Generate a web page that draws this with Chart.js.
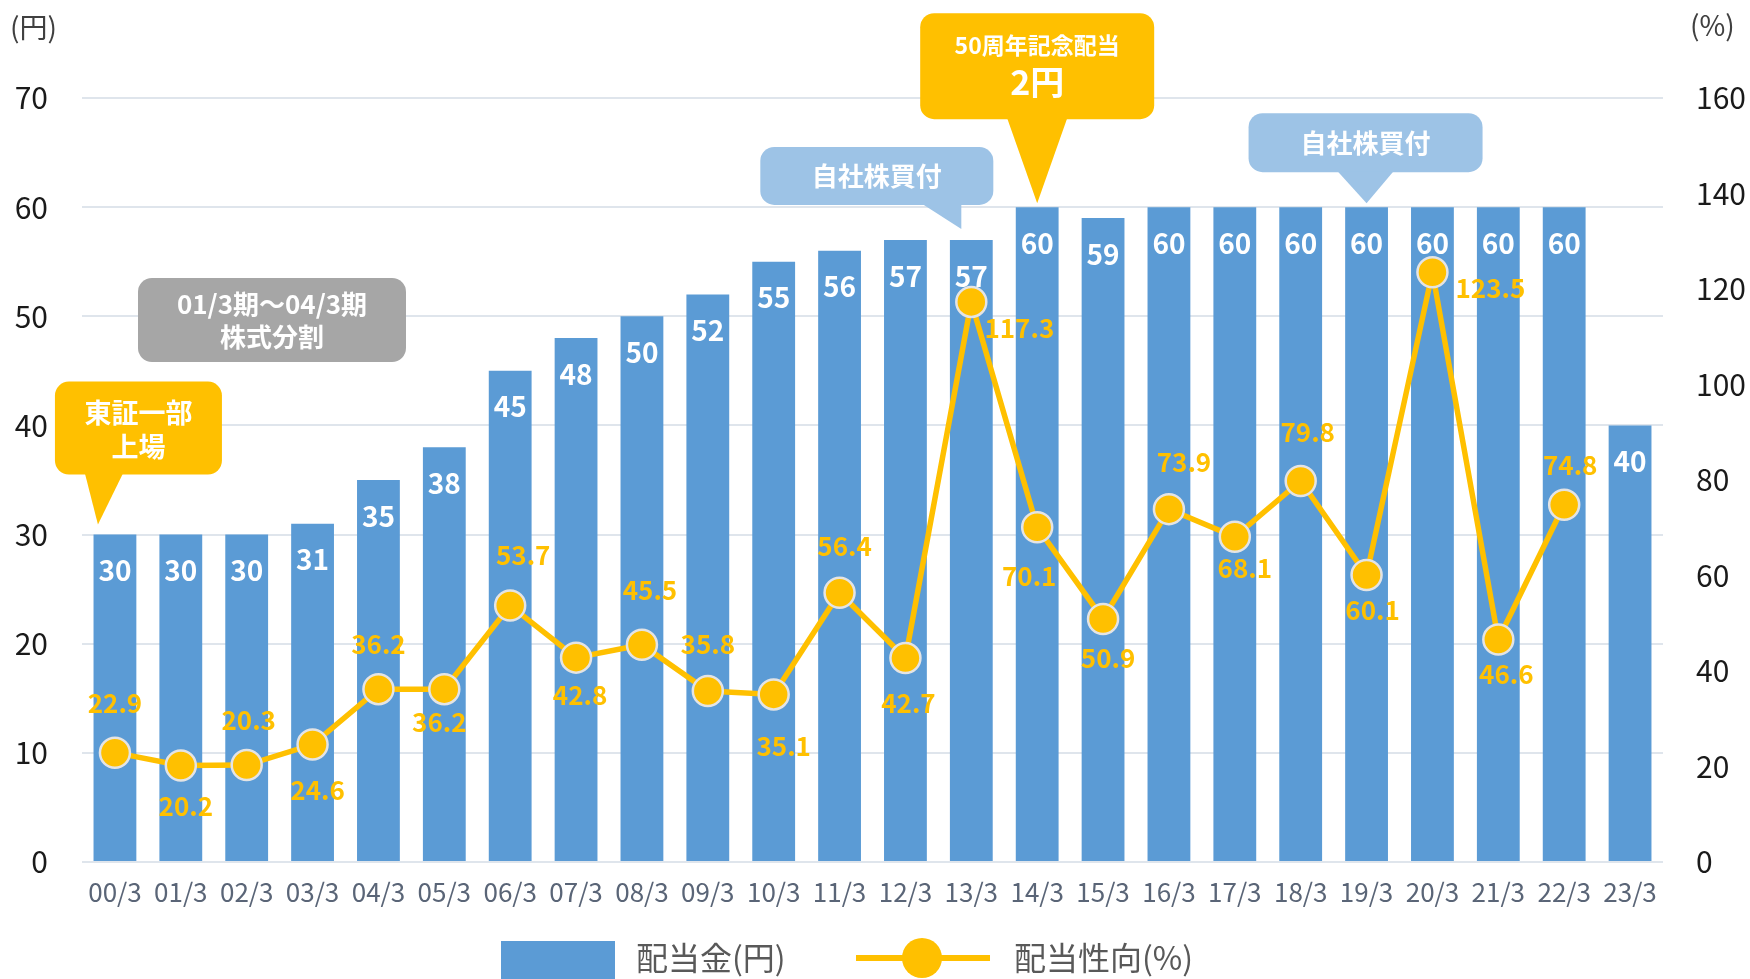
<!DOCTYPE html>
<html lang="ja">
<head>
<meta charset="utf-8">
<script src="https://cdn.jsdelivr.net/npm/chart.js@4.4.1/dist/chart.umd.min.js"></script>
<style>
  html, body { margin: 0; padding: 0; background: #fff; }
  #wrap { width: 1750px; height: 979px; }
</style>
</head>
<body>
<div id="wrap"><canvas id="myChart" width="1750" height="979"></canvas></div>
<script>
const categories = ['00/3', '01/3', '02/3', '03/3', '04/3', '05/3', '06/3', '07/3', '08/3', '09/3', '10/3', '11/3',
  '12/3', '13/3', '14/3', '15/3', '16/3', '17/3', '18/3', '19/3', '20/3', '21/3', '22/3', '23/3'];
const dividends = [30, 30, 30, 31, 35, 38, 45, 48, 50, 52, 55, 56, 57, 57, 60, 59, 60, 60, 60, 60, 60, 60, 60, 40];
const payoutRatio = [22.9, 20.2, 20.3, 24.6, 36.2, 36.2, 53.7, 42.8, 45.5, 35.8, 35.1, 56.4, 42.7, 117.3, 70.1, 50.9,
  73.9, 68.1, 79.8, 60.1, 123.5, 46.6, 74.8, null];
const leftTicks = [0, 10, 20, 30, 40, 50, 60, 70];
const rightTicks = [0, 20, 40, 60, 80, 100, 120, 140, 160];
const seriesNames = ['配当金(円)', '配当性向(%)'];

// where each payout label sits relative to its point (dx, dy)
const payoutLabelOffsets = [
  [0, -50], [5, 41], [2, -45], [5, 46], [0, -45], [-5, 33], [13, -50], [4, 37], [8, -55], [0, -47],
  [10, 52], [5, -47], [3, 45], [48, 26], [-8, 49], [5, 39], [15, -47], [10, 31], [7, -49], [6, 35],
  [58, 16], [8, 35], [6, -40]
];

const FONT = '"Noto Sans CJK JP", "Noto Sans", sans-serif';
const BLUE = '#5B9BD5';
const YELLOW = '#FFC000';

function roundRect(ctx, x, y, w, h, r) {
  ctx.beginPath();
  ctx.moveTo(x + r, y);
  ctx.arcTo(x + w, y, x + w, y + h, r);
  ctx.arcTo(x + w, y + h, x, y + h, r);
  ctx.arcTo(x, y + h, x, y, r);
  ctx.arcTo(x, y, x + w, y, r);
  ctx.closePath();
}

// callouts: tip anchored on a bar, box relative to the tip
const callouts = [
  { idx: 0, dx: -17, dy: -10, box: [-43, -143, 167, 93], tail: [-13, 25], color: YELLOW,
    lines: [['東証一部', 27, -15], ['上場', 27, 19]] },
  { idx: 14, dx: 0, dy: -4, box: [-117, -190, 234, 106], tail: [-30, 30], color: YELLOW,
    lines: [['50周年記念配当', 23, -21], ['2円', 34, 16]] },
  { idx: 13, dx: -10, dy: -11, box: [-201, -82, 233, 58], tail: [-39, 0], color: '#9DC3E6',
    lines: [['自社株買付', 26, 0]] },
  { idx: 19, dx: 0, dy: -4, box: [-118, -90, 234, 59], tail: [-29, 27], color: '#9DC3E6',
    lines: [['自社株買付', 26, 0]] }
];

const extras = {
  id: 'extras',
  afterDatasetsDraw(chart) {
    const ctx = chart.ctx;
    const pts = chart.getDatasetMeta(0).data;
    const bars = chart.getDatasetMeta(1).data;
    ctx.save();
    ctx.textAlign = 'center';
    ctx.textBaseline = 'middle';
    ctx.font = `bold 28px ${FONT}`;
    ctx.fillStyle = '#fff';
    bars.forEach((b, i) => ctx.fillText(String(dividends[i]), b.x, b.y + 36));
    ctx.font = `bold 26px ${FONT}`;
    ctx.fillStyle = YELLOW;
    pts.forEach((p, i) => {
      if (payoutRatio[i] == null) return;
      const o = payoutLabelOffsets[i];
      ctx.fillText(payoutRatio[i].toFixed(1), p.x + o[0], p.y + o[1]);
    });
    ctx.restore();
  },
  afterDraw(chart) {
    const ctx = chart.ctx;
    const ca = chart.chartArea;
    const bars = chart.getDatasetMeta(1).data;
    ctx.save();
    ctx.textAlign = 'center';
    ctx.textBaseline = 'middle';

    // gray note box
    ctx.fillStyle = '#A6A6A6';
    roundRect(ctx, ca.left + 56, ca.top + 180, 268, 84, 14);
    ctx.fill();
    ctx.fillStyle = '#fff';
    ctx.font = `bold 26px ${FONT}`;
    ctx.fillText('01/3期～04/3期', ca.left + 190, ca.top + 206);
    ctx.fillText('株式分割', ca.left + 190, ca.top + 239);

    callouts.forEach(c => {
      const b = bars[c.idx];
      const tx = b.x + c.dx, ty = b.y + c.dy;
      const [bx, by, bw, bh] = c.box;
      ctx.fillStyle = c.color;
      roundRect(ctx, tx + bx, ty + by, bw, bh, 14);
      ctx.fill();
      ctx.beginPath();
      ctx.moveTo(tx + c.tail[0], ty + by + bh - 1);
      ctx.lineTo(tx + c.tail[1], ty + by + bh - 1);
      ctx.lineTo(tx, ty);
      ctx.closePath();
      ctx.fill();
      ctx.fillStyle = '#fff';
      const cx = tx + bx + bw / 2, cy = ty + by + bh / 2;
      c.lines.forEach(([t, size, off]) => {
        ctx.font = `bold ${size}px ${FONT}`;
        ctx.fillText(t, cx, cy + off);
      });
    });

    // axis unit titles
    ctx.fillStyle = '#404040';
    ctx.font = `28px ${FONT}`;
    ctx.textAlign = 'left';
    ctx.fillText('(円)', 10, 27);
    ctx.fillText('(%)', 1690, 25);

    // legend
    const ly = 958;
    ctx.fillStyle = BLUE;
    ctx.fillRect(501, 941, 114, 40);
    ctx.fillStyle = '#595959';
    ctx.font = `32px ${FONT}`;
    ctx.fillText(seriesNames[0], 636, ly);
    ctx.strokeStyle = YELLOW;
    ctx.lineWidth = 6;
    ctx.beginPath();
    ctx.moveTo(856, ly);
    ctx.lineTo(990, ly);
    ctx.stroke();
    ctx.fillStyle = YELLOW;
    ctx.beginPath();
    ctx.arc(922, ly, 20, 0, Math.PI * 2);
    ctx.fill();
    ctx.fillStyle = '#595959';
    ctx.fillText(seriesNames[1], 1014, ly);
    ctx.restore();
  }
};

const ctx = document.getElementById('myChart').getContext('2d');
new Chart(ctx, {
  type: 'bar',
  data: {
    labels: categories,
    datasets: [
      {
        type: 'line',
        label: seriesNames[1],
        data: payoutRatio,
        yAxisID: 'y1',
        borderColor: YELLOW,
        borderWidth: 5.5,
        pointRadius: 15,
        pointBackgroundColor: YELLOW,
        pointBorderColor: '#e4e4e4',
        pointBorderWidth: 2.5,
        tension: 0,
        order: 0
      },
      {
        label: seriesNames[0],
        data: dividends,
        yAxisID: 'y',
        backgroundColor: BLUE,
        barPercentage: 0.65,
        categoryPercentage: 1,
        order: 1
      }
    ]
  },
  options: {
    responsive: false,
    animation: false,
    layout: { padding: { top: 98, left: 0, right: 0, bottom: 0 } },
    plugins: {
      legend: { display: false },
      tooltip: { enabled: false }
    },
    scales: {
      x: {
        grid: { display: false, drawTicks: false },
        border: { display: false },
        ticks: {
          color: '#5a6577',
          font: { family: FONT, size: 26 },
          padding: 15,
          maxRotation: 0,
          autoSkip: false
        },
        afterFit(scale) { scale.height = 117; }
      },
      y: {
        position: 'left',
        min: leftTicks[0],
        max: leftTicks[leftTicks.length - 1],
        afterBuildTicks(scale) { scale.ticks = leftTicks.map(v => ({ value: v })); },
        grid: { color: '#dfe5ec', lineWidth: 2, drawTicks: false },
        border: { display: false },
        ticks: { color: '#1a1a1a', font: { family: FONT, size: 30 }, padding: 34 },
        afterFit(scale) { scale.width = 82; }
      },
      y1: {
        position: 'right',
        min: rightTicks[0],
        max: rightTicks[rightTicks.length - 1],
        afterBuildTicks(scale) { scale.ticks = rightTicks.map(v => ({ value: v })); },
        grid: { display: false, drawTicks: false },
        border: { display: false },
        ticks: { color: '#1a1a1a', font: { family: FONT, size: 30 }, padding: 33 },
        afterFit(scale) { scale.width = 87; }
      }
    }
  },
  plugins: [extras]
});
</script>
</body>
</html>
